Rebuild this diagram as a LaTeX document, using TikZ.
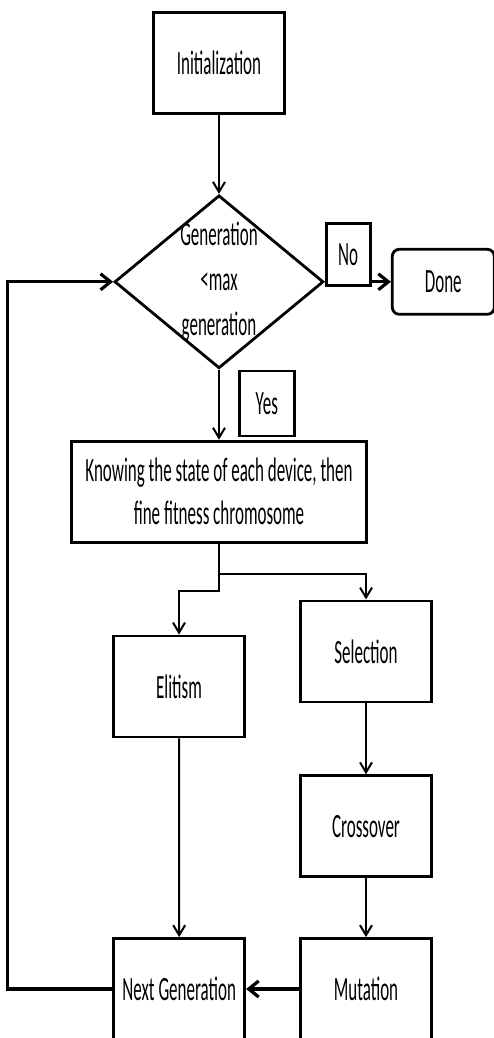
\documentclass[tikz,border=0pt]{standalone}
\usepackage{fontspec}
\setmainfont{Carlito}[FakeStretch=0.5]
\usepackage{tikz}
\tikzset{font=\fontsize{34}{43}\selectfont}
\usetikzlibrary{shapes.geometric,positioning}
\usetikzlibrary{arrows.meta}
\tikzset{
    process/.style={draw, line width=2.8pt, minimum width=131pt, minimum height=101pt, inner sep=0pt, align=center},
    decision/.style={draw, diamond, line width=2.8pt, minimum width=209pt, minimum height=173pt, inner sep=0pt},
    terminal/.style={draw, rounded corners=7pt, line width=2.8pt, minimum width=102pt, minimum height=65pt, inner sep=0pt},
    tag/.style={draw, fill=white, line width=2.6pt, minimum height=62pt, inner sep=0pt},
    flowline/.style={line width=2pt, -{Straight Barb[length=10pt,width=12pt]}},
    thickline/.style={line width=3.2pt, -{Straight Barb[length=10pt,width=16pt]}}
}

\begin{document}
\begin{tikzpicture}[auto,node distance=80pt]
    \useasboundingbox (0,0) rectangle (493pt,-1038pt);

    \node[process] (init) at (219pt,-63pt) {Initialization};
    \node[decision] (dec) [below=79pt of init, label={[name=dectext, align=center, font=\fontsize{34}{45}\selectfont]center:{Generation\\<max\\generation}}] {};
    \node[terminal] (done) [right=66pt of dec] {Done};
    \node[process, minimum width=295pt] (know) [below=70pt of dec] {Knowing the state of each device, then\\fine fitness chromosome};

    \node[process] (elitism) [below=91pt of know, xshift=-40pt] {Elitism};
    \node[process] (selection) [below=56pt of know, xshift=147pt] {Selection};
    \node[process] (crossover) [below=71pt of selection] {Crossover};
    \node[process] (mutation) [below=59pt of crossover] {Mutation};
    \node[process] (nextgen) [left=53pt of mutation] {Next Generation};

    \draw[flowline] (init) -- (dec);
    \draw[thickline] (dec) -- (done);
    \node[tag, minimum width=44pt] (no) [above right=-5pt and 0pt of dec.east] {No};
    \draw[flowline] (dec) -- (know);
    \node[tag, minimum width=55pt, minimum height=65pt] (yes) [below right=0pt and 19pt of dec.south] {Yes};

    \draw[flowline] (know.south) -- ++(0,-47pt) -| (elitism.north);
    \draw[flowline] ([yshift=-30pt]know.south) -| (selection.north);
    \draw[flowline] (selection) -- (crossover);
    \draw[flowline] (crossover) -- (mutation);
    \draw[flowline] (elitism) -- (nextgen);
    \draw[thickline] (mutation) -- (nextgen);
    \draw[thickline] (nextgen.west) -- ++(-105pt,0) |- (dec.west);
\end{tikzpicture}
\end{document}
